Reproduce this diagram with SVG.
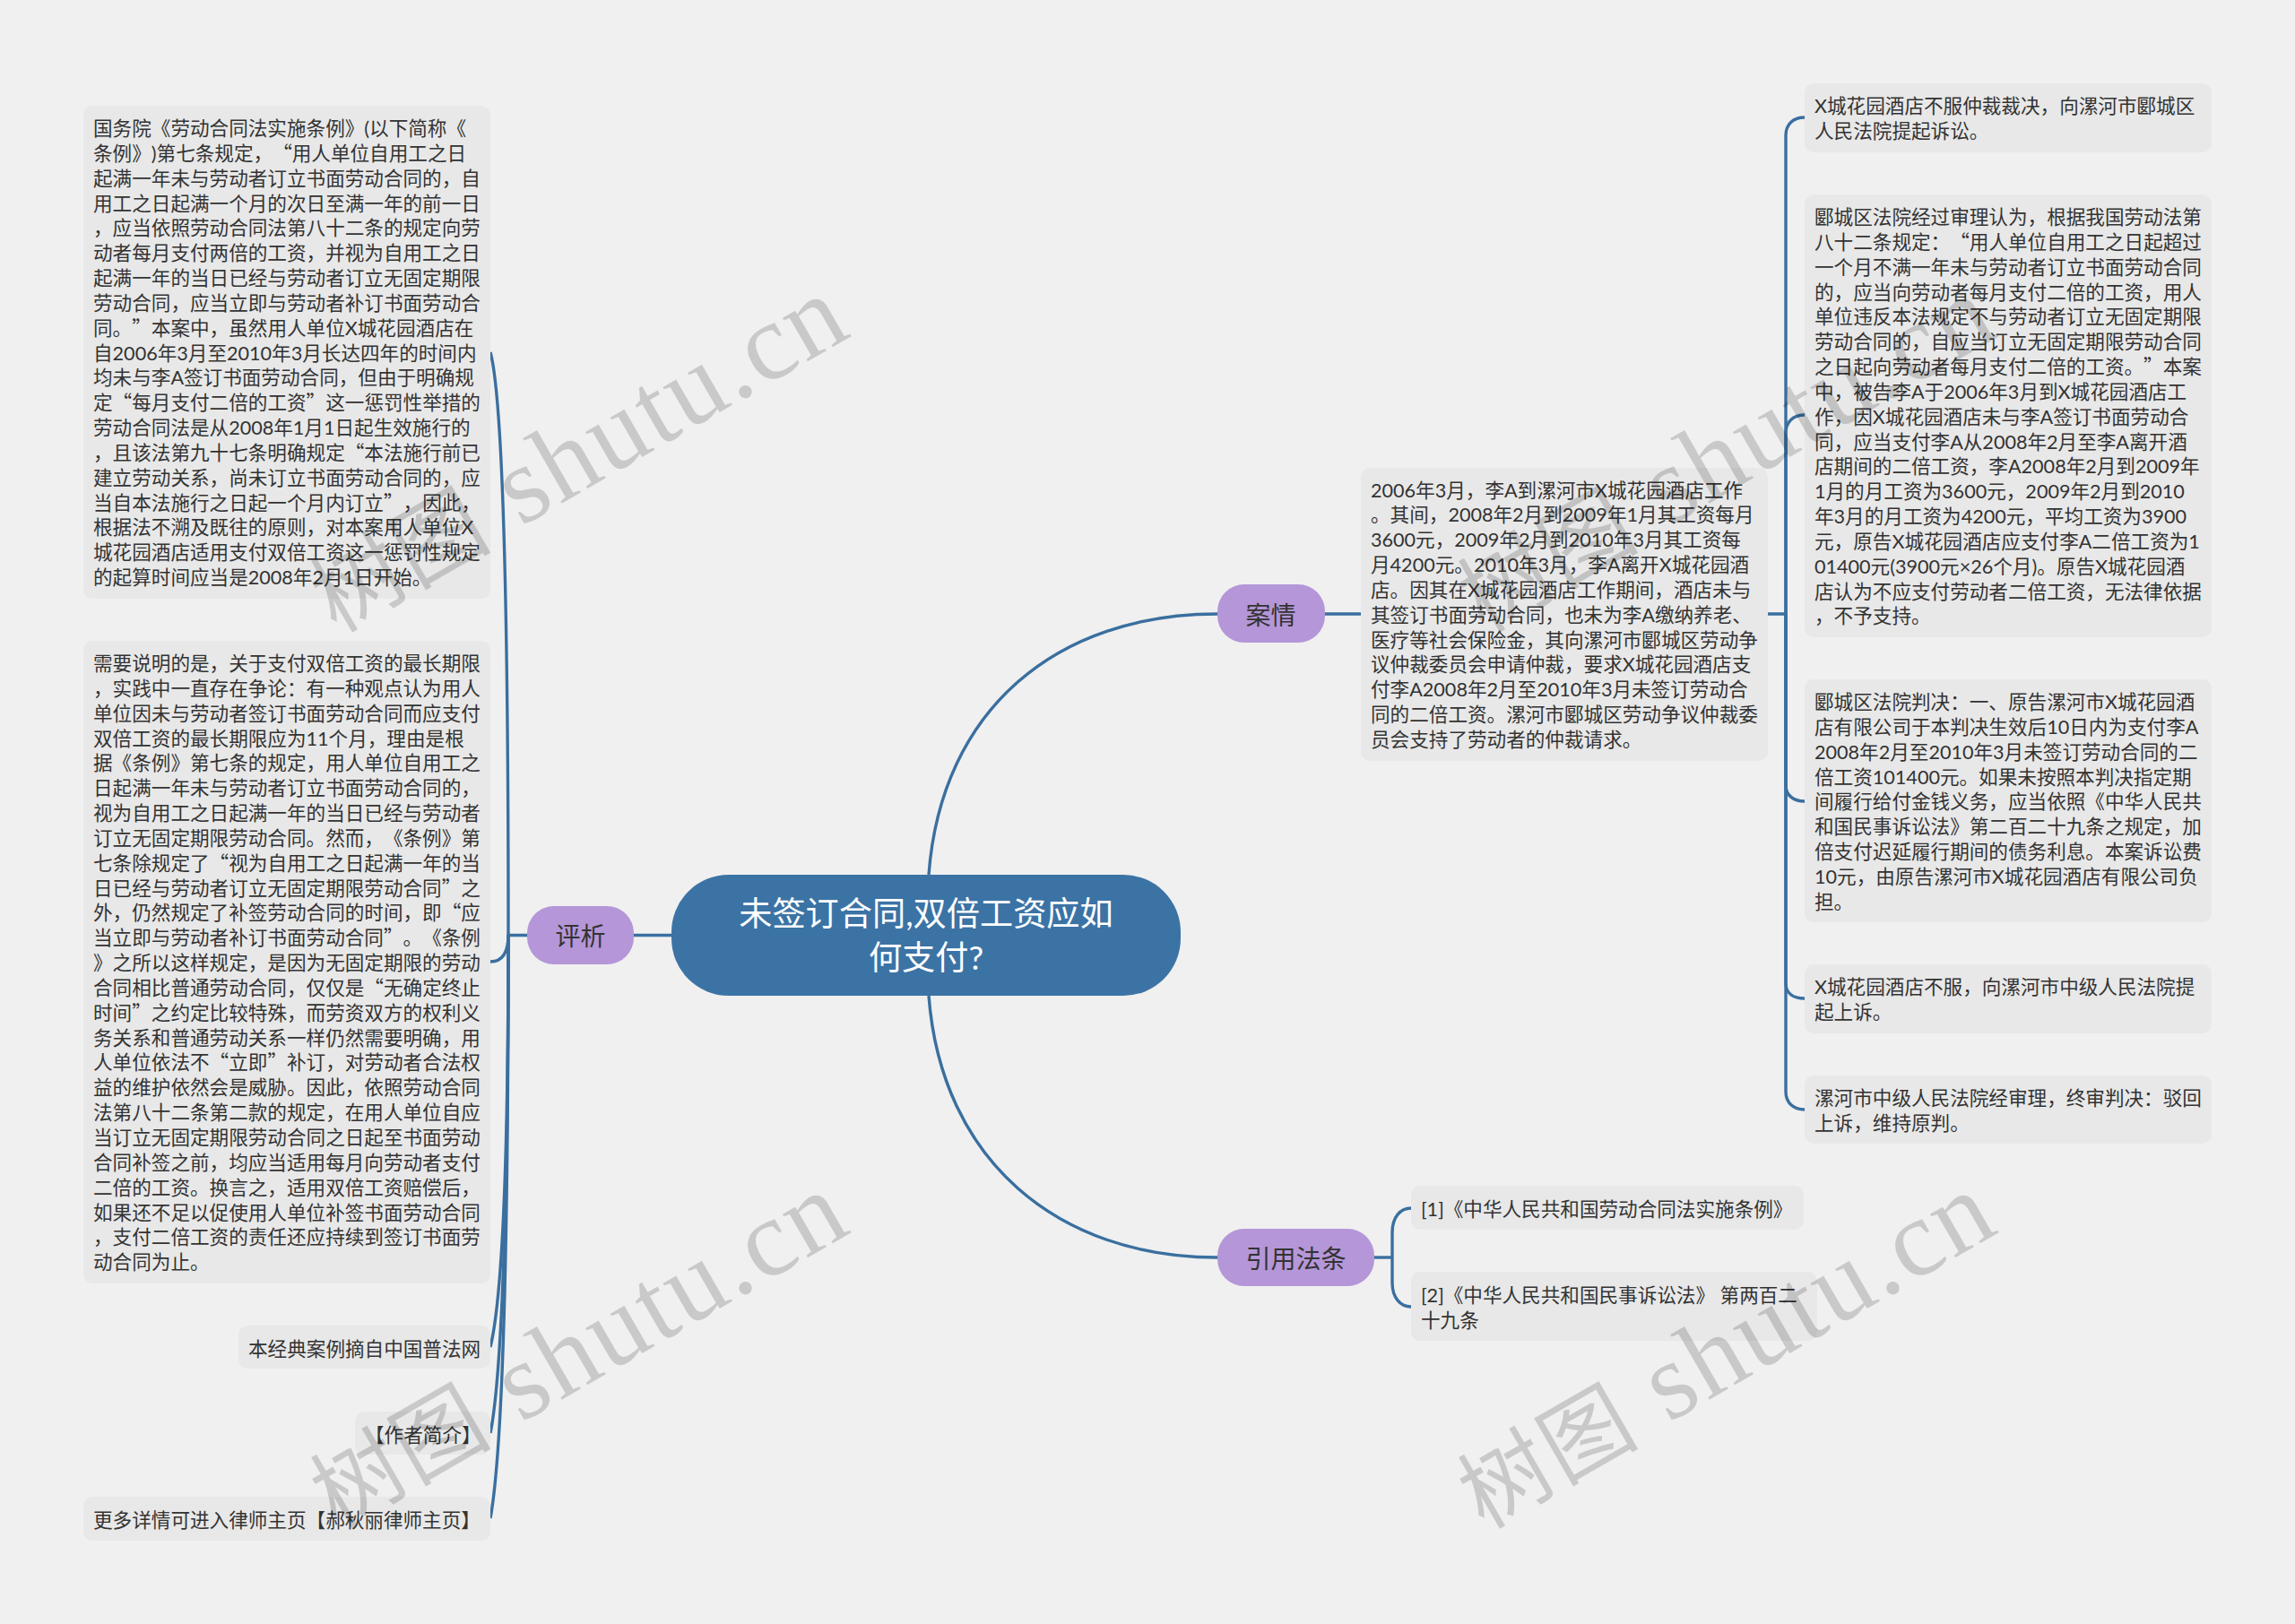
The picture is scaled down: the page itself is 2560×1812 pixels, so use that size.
<svg xmlns="http://www.w3.org/2000/svg" width="2560" height="1812" viewBox="0 0 2560 1812" xml:lang="zh-CN">
<style>
text{font-family:"Lato","Noto Sans CJK SC",sans-serif;text-spacing-trim:space-all;font-feature-settings:"palt" 0}
.b{fill:#e8e8e8}
.t{font-size:21.6px;fill:#333}
.q{font-family:"Noto Sans CJK SC",sans-serif}
.n{fill:#b596d8}
.nt{font-size:28px;fill:#333;text-anchor:middle}
.ct{font-size:37.2px;fill:#fff;text-anchor:middle}
#connectors path{fill:none;stroke:#3a6f9f;stroke-width:3.4}
.wm{fill:#000;fill-opacity:.16;font-family:"Liberation Serif","Noto Sans CJK SC",serif;font-size:122px;letter-spacing:2.5px}
.wc{font-family:"Noto Sans CJK SC",sans-serif;font-size:100px}
</style>
<rect width="2560" height="1812" fill="#f0f0f0"/>
<g id="connectors">
<path d="M1036 976C1050 790 1180 685 1358 685"/>
<path d="M1036 1111C1050 1295 1180 1403 1358 1403"/>
<path d="M707 1043.5H749M567 1043.5H588"/>
<path d="M1477 685H1518M1972 685H1992"/>
<path d="M1533 1403H1553"/>
<path d="M1553 1403V1375C1553 1358 1562 1348 1574 1348"/>
<path d="M1553 1403V1431C1553 1448 1562 1458 1574 1458"/>
<path d="M1992 685V151C1992 139 2000 131 2013 131"/>
<path d="M1992 685V483C1992 471 2000 463 2013 463"/>
<path d="M1992 685V876C1992 887 2000 894 2013 894"/>
<path d="M1992 685V1097C1992 1108 2000 1114 2013 1114"/>
<path d="M1992 685V1218C1992 1230 2000 1238 2013 1238"/>
<path d="M567 1043C567 560 557 430 547 393"/>
<path d="M567 1043C567 1060 562 1073 547 1073"/>
<path d="M567 1043C567 1380 555 1470 547 1503"/>
<path d="M567 1043C567 1430 555 1560 547 1599"/>
<path d="M567 1043C567 1520 555 1650 547 1694"/>
</g>
<g id="center"><rect x="749" y="976" width="568" height="135" rx="64" fill="#3c73a5"/>
<text class="ct" x="1033" y="1033">未签订合同,双倍工资应如</text><text class="ct" x="1033" y="1082">何支付?</text></g>
<g id="branch-pingxi"><rect class="n" x="588" y="1011" width="119" height="65" rx="30"/><text class="nt" x="647.5" y="1055">评析</text></g>
<g id="branch-anqing"><rect class="n" x="1358" y="652" width="120" height="65" rx="30"/><text class="nt" x="1417.5" y="697">案情</text></g>
<g id="branch-yinyong"><rect class="n" x="1358" y="1371" width="175" height="64" rx="30"/><text class="nt" x="1445.5" y="1415">引用法条</text></g>

<g id="left-1"><rect class="b" x="93" y="118" width="454" height="550" rx="10"/>
<text class="t">
<tspan x="104" y="151">国务院《劳动合同法实施条例》(以下简称《</tspan>
<tspan x="104" y="178.8">条例》)第七条规定，<tspan class="q">“</tspan>用人单位自用工之日</tspan>
<tspan x="104" y="206.7">起满一年未与劳动者订立书面劳动合同的，自</tspan>
<tspan x="104" y="234.5">用工之日起满一个月的次日至满一年的前一日</tspan>
<tspan x="104" y="262.4">，应当依照劳动合同法第八十二条的规定向劳</tspan>
<tspan x="104" y="290.2">动者每月支付两倍的工资，并视为自用工之日</tspan>
<tspan x="104" y="318">起满一年的当日已经与劳动者订立无固定期限</tspan>
<tspan x="104" y="345.9">劳动合同，应当立即与劳动者补订书面劳动合</tspan>
<tspan x="104" y="373.7">同。<tspan class="q">”</tspan><tspan dx="0">本案中，虽然用人单位X城花园酒店在</tspan></tspan>
<tspan x="104" y="401.6">自2006年3月至2010年3月长达四年的时间内</tspan>
<tspan x="104" y="429.4">均未与李A签订书面劳动合同，但由于明确规</tspan>
<tspan x="104" y="457.2">定<tspan class="q">“</tspan>每月支付二倍的工资<tspan class="q">”</tspan>这一惩罚性举措的</tspan>
<tspan x="104" y="485.1">劳动合同法是从2008年1月1日起生效施行的</tspan>
<tspan x="104" y="512.9">，且该法第九十七条明确规定<tspan class="q">“</tspan>本法施行前已</tspan>
<tspan x="104" y="540.8">建立劳动关系，尚未订立书面劳动合同的，应</tspan>
<tspan x="104" y="568.6">当自本法施行之日起一个月内订立<tspan class="q">”</tspan>，因此，</tspan>
<tspan x="104" y="596.4">根据法不溯及既往的原则，对本案用人单位X</tspan>
<tspan x="104" y="624.3">城花园酒店适用支付双倍工资这一惩罚性规定</tspan>
<tspan x="104" y="652.1">的起算时间应当是2008年2月1日开始。</tspan>
</text></g>

<g id="left-2"><rect class="b" x="93" y="715" width="454" height="717" rx="10"/>
<text class="t">
<tspan x="104" y="748">需要说明的是，关于支付双倍工资的最长期限</tspan>
<tspan x="104" y="775.8">，实践中一直存在争论：有一种观点认为用人</tspan>
<tspan x="104" y="803.7">单位因未与劳动者签订书面劳动合同而应支付</tspan>
<tspan x="104" y="831.5">双倍工资的最长期限应为11个月，理由是根</tspan>
<tspan x="104" y="859.4">据《条例》第七条的规定，用人单位自用工之</tspan>
<tspan x="104" y="887.2">日起满一年未与劳动者订立书面劳动合同的，</tspan>
<tspan x="104" y="915">视为自用工之日起满一年的当日已经与劳动者</tspan>
<tspan x="104" y="942.9">订立无固定期限劳动合同。然而，《条例》第</tspan>
<tspan x="104" y="970.7">七条除规定了<tspan class="q">“</tspan>视为自用工之日起满一年的当</tspan>
<tspan x="104" y="998.6">日已经与劳动者订立无固定期限劳动合同<tspan class="q">”</tspan>之</tspan>
<tspan x="104" y="1026.4">外，仍然规定了补签劳动合同的时间，即<tspan class="q">“</tspan>应</tspan>
<tspan x="104" y="1054.2">当立即与劳动者补订书面劳动合同<tspan class="q">”</tspan>。《条例</tspan>
<tspan x="104" y="1082.1">》之所以这样规定，是因为无固定期限的劳动</tspan>
<tspan x="104" y="1109.9">合同相比普通劳动合同，仅仅是<tspan class="q">“</tspan>无确定终止</tspan>
<tspan x="104" y="1137.8">时间<tspan class="q">”</tspan>之约定比较特殊，而劳资双方的权利义</tspan>
<tspan x="104" y="1165.6">务关系和普通劳动关系一样仍然需要明确，用</tspan>
<tspan x="104" y="1193.4">人单位依法不<tspan class="q">“</tspan>立即<tspan class="q">”</tspan>补订，对劳动者合法权</tspan>
<tspan x="104" y="1221.3">益的维护依然会是威胁。因此，依照劳动合同</tspan>
<tspan x="104" y="1249.1">法第八十二条第二款的规定，在用人单位自应</tspan>
<tspan x="104" y="1277">当订立无固定期限劳动合同之日起至书面劳动</tspan>
<tspan x="104" y="1304.8">合同补签之前，均应当适用每月向劳动者支付</tspan>
<tspan x="104" y="1332.6">二倍的工资。换言之，适用双倍工资赔偿后，</tspan>
<tspan x="104" y="1360.5">如果还不足以促使用人单位补签书面劳动合同</tspan>
<tspan x="104" y="1388.3">，支付二倍工资的责任还应持续到签订书面劳</tspan>
<tspan x="104" y="1416.2">动合同为止。</tspan>
</text></g>

<g id="left-3"><rect class="b" x="266" y="1479" width="281" height="48" rx="10"/><text class="t" x="277" y="1512.5">本经典案例摘自中国普法网</text></g>
<g id="left-4"><rect class="b" x="396" y="1575" width="151" height="48" rx="10"/><text class="t" x="407" y="1608.5">【作者简介】</text></g>
<g id="left-5"><rect class="b" x="93" y="1670" width="454" height="49" rx="10"/><text class="t" x="104" y="1703.5">更多详情可进入律师主页【郝秋丽律师主页】</text></g>

<g id="case"><rect class="b" x="1518" y="522" width="454" height="327" rx="10"/>
<text class="t">
<tspan x="1529" y="554.5">2006年3月，李A到漯河市X城花园酒店工作</tspan>
<tspan x="1529" y="582.3">。其间，2008年2月到2009年1月其工资每月</tspan>
<tspan x="1529" y="610.2">3600元，2009年2月到2010年3月其工资每</tspan>
<tspan x="1529" y="638">月4200元。2010年3月，李A离开X城花园酒</tspan>
<tspan x="1529" y="665.9">店。因其在X城花园酒店工作期间，酒店未与</tspan>
<tspan x="1529" y="693.7">其签订书面劳动合同，也未为李A缴纳养老、</tspan>
<tspan x="1529" y="721.5">医疗等社会保险金，其向漯河市郾城区劳动争</tspan>
<tspan x="1529" y="749.4">议仲裁委员会申请仲裁，要求X城花园酒店支</tspan>
<tspan x="1529" y="777.2">付李A2008年2月至2010年3月未签订劳动合</tspan>
<tspan x="1529" y="805.1">同的二倍工资。漯河市郾城区劳动争议仲裁委</tspan>
<tspan x="1529" y="832.9">员会支持了劳动者的仲裁请求。</tspan>
</text></g>

<g id="right-1"><rect class="b" x="2013" y="93" width="454" height="77" rx="10"/>
<text class="t"><tspan x="2024" y="126">X城花园酒店不服仲裁裁决，向漯河市郾城区</tspan><tspan x="2024" y="153.8">人民法院提起诉讼。</tspan></text></g>

<g id="right-2"><rect class="b" x="2013" y="217" width="454" height="494" rx="10"/>
<text class="t">
<tspan x="2024" y="250">郾城区法院经过审理认为，根据我国劳动法第</tspan>
<tspan x="2024" y="277.8">八十二条规定：<tspan class="q">“</tspan>用人单位自用工之日起超过</tspan>
<tspan x="2024" y="305.7">一个月不满一年未与劳动者订立书面劳动合同</tspan>
<tspan x="2024" y="333.5">的，应当向劳动者每月支付二倍的工资，用人</tspan>
<tspan x="2024" y="361.4">单位违反本法规定不与劳动者订立无固定期限</tspan>
<tspan x="2024" y="389.2">劳动合同的，自应当订立无固定期限劳动合同</tspan>
<tspan x="2024" y="417">之日起向劳动者每月支付二倍的工资。<tspan class="q">”</tspan>本案</tspan>
<tspan x="2024" y="444.9">中，被告李A于2006年3月到X城花园酒店工</tspan>
<tspan x="2024" y="472.7">作，因X城花园酒店未与李A签订书面劳动合</tspan>
<tspan x="2024" y="500.6">同，应当支付李A从2008年2月至李A离开酒</tspan>
<tspan x="2024" y="528.4">店期间的二倍工资，李A2008年2月到2009年</tspan>
<tspan x="2024" y="556.2">1月的月工资为3600元，2009年2月到2010</tspan>
<tspan x="2024" y="584.1">年3月的月工资为4200元，平均工资为3900</tspan>
<tspan x="2024" y="611.9">元，原告X城花园酒店应支付李A二倍工资为1</tspan>
<tspan x="2024" y="639.8">01400元(3900元×26个月)。原告X城花园酒</tspan>
<tspan x="2024" y="667.6">店认为不应支付劳动者二倍工资，无法律依据</tspan>
<tspan x="2024" y="695.4">，不予支持。</tspan>
</text></g>

<g id="right-3"><rect class="b" x="2013" y="758" width="454" height="271" rx="10"/>
<text class="t">
<tspan x="2024" y="791">郾城区法院判决：一、原告漯河市X城花园酒</tspan>
<tspan x="2024" y="818.8">店有限公司于本判决生效后10日内为支付李A</tspan>
<tspan x="2024" y="846.7">2008年2月至2010年3月未签订劳动合同的二</tspan>
<tspan x="2024" y="874.5">倍工资101400元。如果未按照本判决指定期</tspan>
<tspan x="2024" y="902.4">间履行给付金钱义务，应当依照《中华人民共</tspan>
<tspan x="2024" y="930.2">和国民事诉讼法》第二百二十九条之规定，加</tspan>
<tspan x="2024" y="958">倍支付迟延履行期间的债务利息。本案诉讼费</tspan>
<tspan x="2024" y="985.9">10元，由原告漯河市X城花园酒店有限公司负</tspan>
<tspan x="2024" y="1013.7">担。</tspan>
</text></g>

<g id="right-4"><rect class="b" x="2013" y="1076" width="454" height="77" rx="10"/>
<text class="t"><tspan x="2024" y="1109">X城花园酒店不服，向漯河市中级人民法院提</tspan><tspan x="2024" y="1136.8">起上诉。</tspan></text></g>
<g id="right-5"><rect class="b" x="2013" y="1200" width="454" height="76" rx="10"/>
<text class="t"><tspan x="2024" y="1233">漯河市中级人民法院经审理，终审判决：驳回</tspan><tspan x="2024" y="1260.8">上诉，维持原判。</tspan></text></g>

<g id="law-1"><rect class="b" x="1574" y="1323" width="438" height="49" rx="10"/><text class="t" x="1585" y="1356.5">[1]《中华人民共和国劳动合同法实施条例》</text></g>
<g id="law-2"><rect class="b" x="1574" y="1419" width="453" height="77" rx="10"/>
<text class="t"><tspan x="1585" y="1453">[2]《中华人民共和国民事诉讼法》 第两百二</tspan><tspan x="1585" y="1480.8">十九条</tspan></text></g>

<g id="watermarks">
<text class="wm" transform="translate(375 707) rotate(-30)"><tspan class="wc">树图</tspan> shutu.cn</text>
<text class="wm" transform="translate(375 1707) rotate(-30)"><tspan class="wc">树图</tspan> shutu.cn</text>
<text class="wm" transform="translate(1655 1707) rotate(-30)"><tspan class="wc">树图</tspan> shutu.cn</text>
<text class="wm" transform="translate(1655 707) rotate(-30)"><tspan class="wc">树图</tspan> shutu.cn</text>
</g>
</svg>
